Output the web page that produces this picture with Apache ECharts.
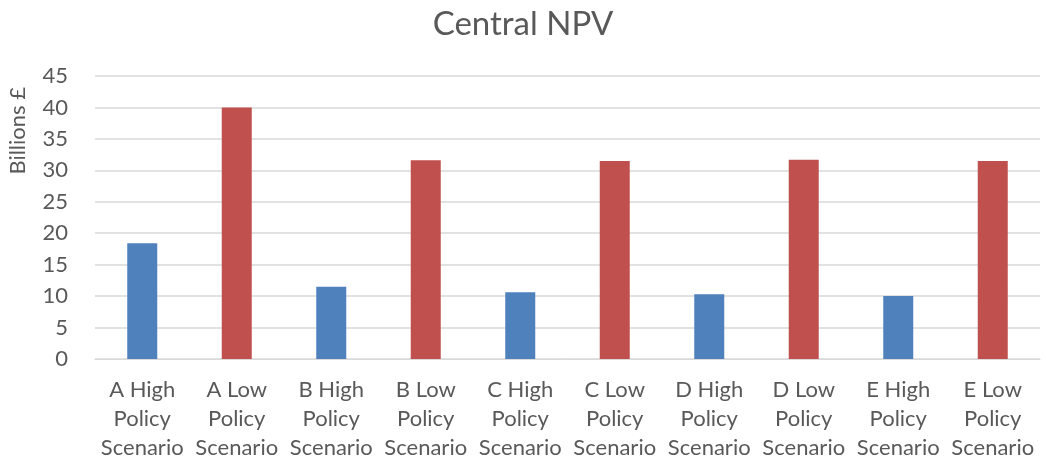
<!DOCTYPE html>
<html>
<head>
<meta charset="utf-8">
<script src="https://cdn.jsdelivr.net/npm/echarts@6/dist/echarts.min.js"></script>
<style>
    html, body {margin: 0; padding: 0; background: #fff;}
    #chart {width: 1046px; height: 464px;}
</style>
</head>
<body>
<div id="chart"></div>
<script>
// 类别名称
var categories = [
    'A High\nPolicy\nScenario', 'A Low\nPolicy\nScenario',
    'B High\nPolicy\nScenario', 'B Low\nPolicy\nScenario',
    'C High\nPolicy\nScenario', 'C Low\nPolicy\nScenario',
    'D High\nPolicy\nScenario', 'D Low\nPolicy\nScenario',
    'E High\nPolicy\nScenario', 'E Low\nPolicy\nScenario'
];
// 数值 (Billions £)
var npvValues = [18.4, 40.0, 11.5, 31.6, 10.6, 31.5, 10.3, 31.7, 10.0, 31.5];
var yTicks = [0, 5, 10, 15, 20, 25, 30, 35, 40, 45];

var highColor = '#4f81bd',
    lowColor = '#c0504d',
    textColor = '#595959',
    font = 'Lato';

var chart = echarts.init(document.getElementById('chart'));

chart.setOption({
    animation: false,
    title: {
        text: 'Central NPV',
        left: 'center',
        top: 3,
        textStyle: {fontFamily: font, fontSize: 33, fontWeight: 'normal', color: textColor}
    },
    grid: {left: 95, right: 6, top: 76, bottom: 105},
    graphic: [{
        type: 'text',
        left: 7,
        top: 87,
        rotation: Math.PI / 2,
        style: {text: 'Billions £', font: '22px ' + font, fill: textColor}
    }],
    xAxis: {
        type: 'category',
        data: categories,
        axisLine: {lineStyle: {color: '#d9d9d9', width: 1}},
        axisTick: {show: false},
        axisLabel: {
            interval: 0,
            margin: 16,
            fontFamily: font,
            fontSize: 22,
            lineHeight: 29,
            color: textColor
        }
    },
    yAxis: {
        type: 'value',
        min: yTicks[0],
        max: yTicks[yTicks.length - 1],
        interval: yTicks[1] - yTicks[0],
        axisLine: {show: false},
        axisTick: {show: false},
        axisLabel: {margin: 27, fontFamily: font, fontSize: 22, color: textColor},
        splitLine: {lineStyle: {color: '#d9d9d9', width: 1.5}}
    },
    series: [{
        type: 'bar',
        barWidth: 30,
        data: npvValues.map(function(v, i) {
            return {
                value: v,
                itemStyle: {color: i % 2 === 0 ? highColor : lowColor}
            };
        })
    }]
});
</script>
</body>
</html>
